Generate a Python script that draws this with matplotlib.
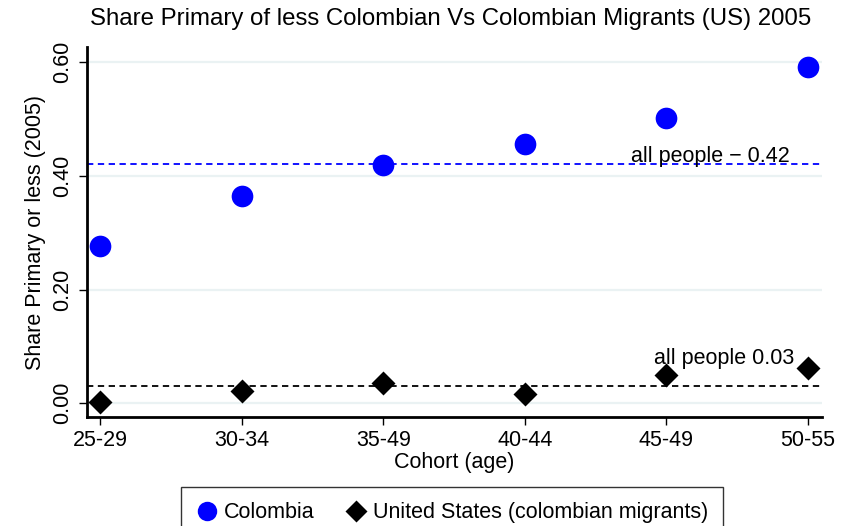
import numpy as np
import matplotlib.pyplot as plt
from matplotlib.lines import Line2D

# donnees
cohortes = ["25-29", "30-34", "35-49", "40-44", "45-49", "50-55"]
colombia = [0.277, 0.365, 0.419, 0.456, 0.502, 0.592]
us_migrants = [0.002, 0.021, 0.035, 0.016, 0.049, 0.062]
moy_colombia = 0.42
moy_us = 0.03

plt.rcParams['font.family'] = ['Liberation Sans', 'DejaVu Sans']
fs = 15.5

fig = plt.figure(figsize=(8.46, 5.26), dpi=100)
ax = fig.add_axes([0.1025, 0.2063, 0.9713 - 0.1025, 0.9112 - 0.2063])

x = np.arange(len(cohortes))

# grille horizontale
for yv in [0.0, 0.2, 0.4, 0.6]:
    ax.axhline(yv, color='#eaf2f3', lw=1.6, zorder=0)

# lignes moyennes
ax.axhline(moy_colombia, color='#0000ff', lw=1.3, ls=(0, (3.5, 2.5)), zorder=1)
ax.axhline(moy_us, color='black', lw=1.3, ls=(0, (3.5, 2.5)), zorder=1)
ax.text(4.87, moy_colombia + 0.005, "all people \u2212 %.2f" % moy_colombia,
        ha='right', va='baseline', fontsize=fs)
ax.text(4.907, moy_us + 0.039, "all people %.2f" % moy_us,
        ha='right', va='baseline', fontsize=fs)

ax.plot(x, colombia, 'o', color='#0000ff', ms=15.6, mec='none', zorder=3)
ax.plot(x, us_migrants, 'D', color='black', ms=12, mec='none', zorder=3)

ax.set_xlim(-0.097, 5.099)
ax.set_ylim(-0.025, 0.627)
ax.set_xticks(x)
ax.set_xticklabels(cohortes)
ax.set_yticks([0.0, 0.2, 0.4, 0.6])
ax.set_yticklabels(["%.2f" % v for v in [0.0, 0.2, 0.4, 0.6]], rotation=90, va='center')
ax.tick_params(labelsize=fs, length=6, width=1, color='black')
ax.tick_params(axis='y', pad=4)
ax.tick_params(axis='x', pad=3)

for s in ['top', 'right']:
    ax.spines[s].set_visible(False)
for s in ['left', 'bottom']:
    ax.spines[s].set_linewidth(2)

ax.set_xlabel("Cohort (age)", fontsize=fs, labelpad=1)
ax.set_ylabel("Share Primary or less (2005)", fontsize=fs, labelpad=4)
fig.suptitle("Share Primary of less Colombian Vs Colombian Migrants (US) 2005",
             fontsize=17.3, x=0.533, y=0.985)

handles = [
    Line2D([], [], marker='o', color='#0000ff', ls='none', ms=14, mec='none'),
    Line2D([], [], marker='D', color='black', ls='none', ms=11, mec='none'),
]
leg = fig.legend(handles, ["Colombia", "United States (colombian migrants)"],
                 loc='upper left', bbox_to_anchor=(0.214, 0.0741), ncol=2,
                 fontsize=fs, frameon=True, fancybox=False, handletextpad=0.3,
                 columnspacing=1.4, borderpad=0.7, borderaxespad=0,
                 handlelength=1.0)
leg.get_frame().set_edgecolor('black')
leg.get_frame().set_linewidth(1)

plt.savefig("out.png", dpi=100)
